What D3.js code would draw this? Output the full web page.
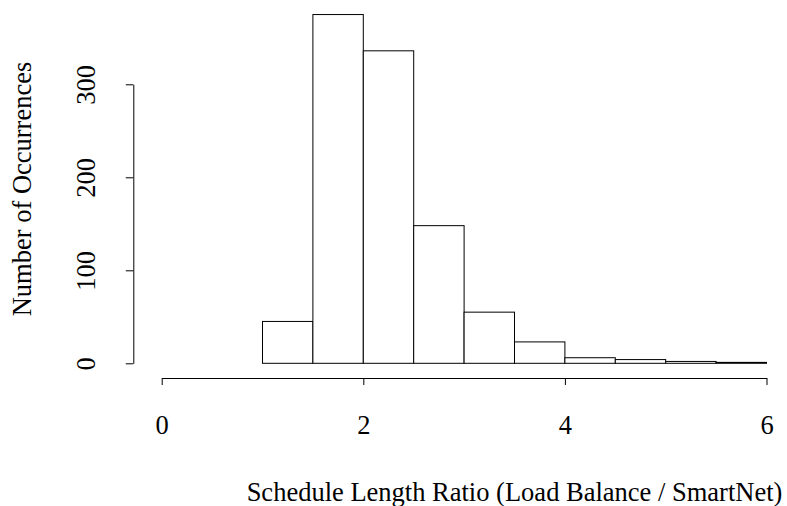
<!DOCTYPE html>
<html>
<head>
<meta charset="utf-8">
<script src="https://cdn.jsdelivr.net/npm/d3@7"></script>
<style>
  body { margin: 0; background: #fff; }
  text { font-family: "Liberation Serif", "Times New Roman", serif; fill: #000; }
</style>
</head>
<body>
<div class="chart"></div>
<script>
// Histogram bins (left/right edges) and counts
var binStarts = [1, 1.5, 2, 2.5, 3, 3.5, 4, 4.5, 5, 5.5];
var binWidth = 0.5;
var counts = [45, 375, 336, 148, 55, 23, 6, 4, 2, 1];
var xTicks = [0, 2, 4, 6];
var yTicks = [0, 100, 200, 300];

var svgWidth = 787;
var svgHeight = 506;
var fontSize = 26.5;

var svg = d3.select(".chart")
  .append("svg")
  .attr("width", svgWidth)
  .attr("height", svgHeight);

// scales fitted to the reference pixel positions
var xScale = d3.scaleLinear().domain([0, 6]).range([161.7, 766.5]);
var yScale = d3.scaleLinear().domain([0, 300]).range([363.3, 84.3]);

// bars
svg.append("g")
  .selectAll("rect")
  .data(binStarts)
  .enter()
  .append("rect")
  .attr("x", function(d) { return xScale(d); })
  .attr("width", function(d) { return xScale(d + binWidth) - xScale(d); })
  .attr("y", function(d, i) { return yScale(counts[i]); })
  .attr("height", function(d, i) { return yScale(0) - yScale(counts[i]); })
  .attr("fill", "#fff")
  .attr("stroke", "#000")
  .attr("stroke-width", 1);

// x axis, detached below the bars like R
var xAxis = d3.axisBottom(xScale)
  .tickValues(xTicks)
  .tickFormat(d3.format("d"))
  .tickSize(7)
  .tickSizeOuter(0);

var gx = svg.append("g")
  .attr("transform", "translate(0, 378)")
  .call(xAxis);
gx.select(".domain").attr("stroke", "#000");
gx.selectAll("text")
  .attr("y", 56)
  .attr("dy", 0)
  .style("font-size", fontSize + "px");

// y axis with rotated labels
var yAxis = d3.axisLeft(yScale)
  .tickValues(yTicks)
  .tickFormat(d3.format("d"))
  .tickSize(7.5)
  .tickSizeOuter(0);

var gy = svg.append("g")
  .attr("transform", "translate(133.3, 0)")
  .call(yAxis);
gy.selectAll("text")
  .attr("transform", "rotate(-90)")
  .attr("x", 0)
  .attr("y", -38.8)
  .attr("dy", 0)
  .attr("text-anchor", "middle")
  .style("font-size", fontSize + "px");

// axis titles
svg.append("text")
  .attr("x", 514.5)
  .attr("y", 501)
  .attr("text-anchor", "middle")
  .style("font-size", fontSize + "px")
  .text("Schedule Length Ratio (Load Balance / SmartNet)");

svg.append("text")
  .attr("transform", "translate(31, 189) rotate(-90)")
  .attr("text-anchor", "middle")
  .style("font-size", fontSize + "px")
  .text("Number of Occurrences");
</script>
</body>
</html>
